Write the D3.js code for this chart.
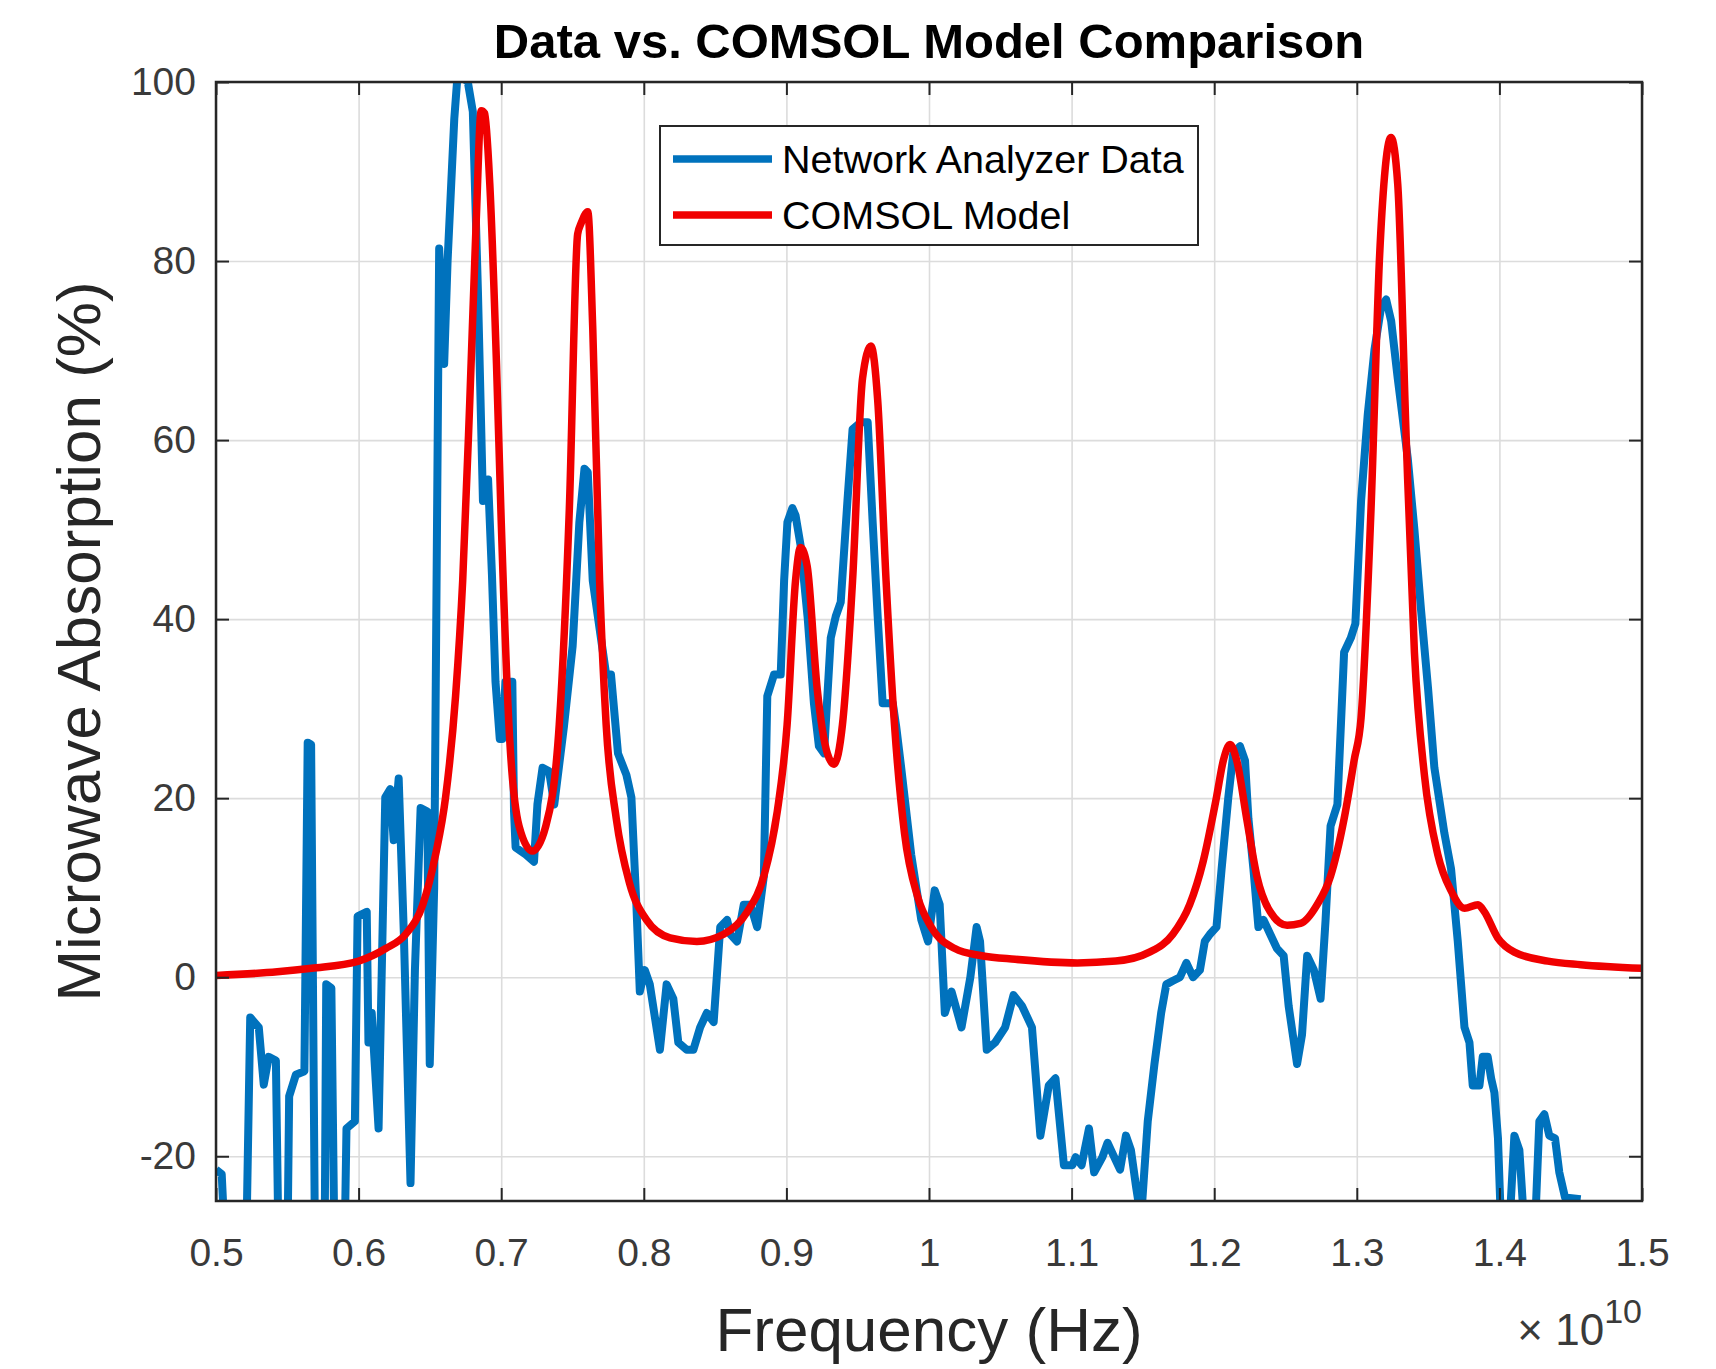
<!DOCTYPE html>
<html>
<head>
<meta charset="utf-8">
<script src="https://cdn.jsdelivr.net/npm/d3@7/dist/d3.min.js"></script>
<style>
  body { margin: 0; background: #fff; }
  text { font-family: Arial, "Liberation Sans", Helvetica, sans-serif; }
</style>
</head>
<body>
<svg class="chart"></svg>
<script>
// frequency values in units of 1e10 Hz, absorption in %
var dataFreq = [
  0.500, 0.504, 0.507, 0.521, 0.524, 0.530, 0.5335, 0.537, 0.542, 0.544,
  0.550, 0.5513, 0.556, 0.562, 0.5643, 0.5667, 0.5695, 0.5761, 0.5773, 0.5809,
  0.5832, 0.590, 0.5915, 0.5974, 0.5993, 0.6057, 0.6069, 0.6092, 0.614, 0.6187,
  0.6222, 0.6246, 0.6281, 0.6317, 0.6364, 0.6395, 0.6435, 0.6482, 0.6499, 0.653,
  0.6565, 0.660, 0.6624, 0.6671, 0.6695, 0.6766, 0.6801, 0.6837, 0.6872, 0.6908,
  0.6935, 0.696, 0.699, 0.7007, 0.703, 0.7078, 0.709, 0.7101, 0.7172, 0.723,
  0.7254, 0.729, 0.7336, 0.7372, 0.744, 0.7501, 0.7548, 0.7584, 0.7607, 0.7642,
  0.7736, 0.777, 0.7819, 0.7878, 0.7913, 0.7948, 0.7972, 0.8007, 0.8042, 0.8113,
  0.816, 0.8207, 0.8242, 0.8301, 0.8348, 0.8395, 0.8442, 0.849, 0.8536, 0.8584,
  0.8607, 0.8654, 0.8701, 0.8748, 0.8795, 0.8842, 0.8866, 0.8913, 0.896, 0.8984,
  0.9007, 0.9042, 0.9064, 0.9099, 0.915, 0.9193, 0.9228, 0.9264, 0.9311, 0.9346,
  0.9381, 0.9428, 0.9464, 0.9522, 0.957, 0.9605, 0.964, 0.9675, 0.9746, 0.977,
  0.9805, 0.9875, 0.9946, 0.9993, 1.004, 1.0075, 1.0111, 1.0158, 1.0228, 1.029,
  1.0334, 1.0358, 1.0405, 1.0464, 1.0534, 1.0593, 1.0652, 1.0722, 1.0781, 1.084,
  1.0887, 1.0946, 1.1005, 1.1028, 1.107, 1.1122, 1.1158, 1.1216, 1.1252, 1.1299,
  1.134, 1.1381, 1.1416, 1.1452, 1.1487, 1.1534, 1.1581, 1.1628, 1.1664, 1.1711,
  1.176, 1.1805, 1.1852, 1.190, 1.1934, 1.197, 1.2016, 1.2052, 1.2099, 1.2134,
  1.2181, 1.2216, 1.224, 1.2275, 1.231, 1.2346, 1.2393, 1.244, 1.2487, 1.2522,
  1.2581, 1.2616, 1.2652, 1.2699, 1.2746, 1.2781, 1.2816, 1.2864, 1.2911, 1.2958,
  1.299, 1.303, 1.3077, 1.3124, 1.3171, 1.3206, 1.3241, 1.3287, 1.3357, 1.3404,
  1.345, 1.350, 1.3544, 1.3614, 1.3661, 1.3708, 1.3755, 1.379, 1.3813, 1.386,
  1.3883, 1.3918, 1.3942, 1.3965, 1.399, 1.4012, 1.407, 1.4105, 1.414, 1.4175,
  1.425, 1.428, 1.4315, 1.435, 1.439, 1.442, 1.446, 1.457
];
var dataAbs = [
  -21.5, -22, -32, -32, -4.5, -5.6, -12, -8.9, -9.3, -32,
  -32, -13.3, -10.9, -10.5, 26.2, 26, -32, -32, -0.8, -1.2,
  -32, -32, -16.9, -16.1, 6.8, 7.3, -7.3, -4, -16.9, 20.1,
  21, 15.3, 22.2, 5, -23, 0.8, 18.9, 18.5, -9.7, 10,
  81.4, 68.5, 80, 95.9, 101, 100, 96.7, 76.5, 53.2, 55.6,
  45, 33, 26.6, 26.6, 33, 33, 18.5, 14.5, 13.7, 12.9,
  19.3, 23.4, 23, 19.3, 28, 37, 50.8, 56.8, 56.4, 44.3,
  33.8, 33.8, 25, 22.6, 20.1, 8.1, -1.6, 0.8, -0.8, -8.1,
  -0.8, -2.4, -7.3, -8.1, -8.1, -5.6, -4, -5, 5.6, 6.4,
  4.8, 4, 8.1, 8.1, 5.6, 11.3, 31.4, 33.8, 33.8, 44.3,
  50.8, 52.4, 51.6, 48.3, 40, 30.6, 25.8, 25, 37.9, 40.3,
  41.9, 53.2, 61.2, 62, 62, 50.8, 40.3, 30.6, 30.6, 28,
  23.4, 13.7, 6.4, 4, 9.7, 8.1, -4, -1.6, -5.6, 0,
  5.6, 4, -8.1, -7.3, -5.6, -2, -3.2, -5.6, -17.7, -12.1,
  -11.3, -21, -21, -20.1, -21, -16.9, -21.8, -20.1, -18.5, -20.1,
  -21.5, -17.7, -19.3, -23.4, -27, -16.1, -9.7, -4, -0.8, -0.4,
  0, 1.6, 0, 0.8, 4, 4.8, 5.6, 12.1, 20.1, 25,
  25.8, 24.2, 17.7, 12.1, 5.6, 6.4, 4.8, 3.2, 2.4, -3.2,
  -9.7, -6.4, 2.4, 0.8, -2.4, 6.4, 16.9, 19.3, 36.3, 37.9,
  39.5, 53.2, 62.9, 70.1, 74.9, 75.7, 73.3, 66.9, 58, 50,
  41.1, 32.2, 23.4, 16.1, 12.1, 4, -5.6, -7.3, -12.1, -12.1,
  -8.9, -8.9, -11.3, -12.9, -18, -28, -28, -17.7, -19.3, -28,
  -28, -16.1, -15.3, -17.7, -18, -21.8, -24.6, -24.8
];

var modelFreq = [
  0.500, 0.543, 0.567, 0.600, 0.619, 0.633, 0.645, 0.654, 0.661, 0.668,
  0.673, 0.678, 0.6825, 0.686, 0.6884, 0.692, 0.6967, 0.700, 0.7054, 0.7125,
  0.7219, 0.7313, 0.7407, 0.7478, 0.7536, 0.756, 0.7607, 0.7642, 0.769, 0.7736,
  0.7807, 0.790, 0.8019, 0.8184, 0.8372, 0.856, 0.8725, 0.8842, 0.8936, 0.9005,
  0.9064, 0.9099, 0.9146, 0.9216, 0.9287, 0.9334, 0.9393, 0.9464, 0.9534, 0.9593,
  0.964, 0.9699, 0.9758, 0.9828, 0.9922, 1.0016, 1.0181, 1.0369, 1.0605, 1.104,
  1.131, 1.1546, 1.171, 1.1828, 1.1922, 1.2016, 1.2064, 1.2111, 1.2158, 1.2228,
  1.2299, 1.2393, 1.2511, 1.2605, 1.2722, 1.2816, 1.2911, 1.2981, 1.303, 1.310,
  1.316, 1.3194, 1.324, 1.3287, 1.3346, 1.3404, 1.3474, 1.3568, 1.366, 1.3755,
  1.385, 1.3895, 1.3988, 1.4105, 1.434, 1.457, 1.500
];
var modelAbs = [
  0.2, 0.6, 1.0, 1.8, 3.2, 4.8, 8.1, 13.7, 20.1, 31.4,
  44.3, 64.5, 84.6, 96.8, 96.5, 88.6, 68.5, 51, 28.2, 16.9,
  14.1, 16.9, 28.2, 52.4, 83, 84.2, 85.5, 72.5, 44.3, 28.2,
  17.7, 10.5, 6.4, 4.4, 4.0, 4.8, 7.3, 11.3, 18.5, 28.2,
  44.3, 48, 45.9, 32.2, 25, 23.8, 28.2, 44.3, 66.9, 70.5,
  64.5, 44.3, 28.2, 16.1, 8.9, 5.6, 3.2, 2.4, 2.0, 1.6,
  1.8, 2.8, 4.8, 8.1, 12.9, 20.1, 24.2, 26, 24.2, 17.7,
  11.3, 7.3, 5.8, 6.0, 8.1, 11.3, 17.7, 24.2, 29, 52.4,
  80.6, 89.4, 93.8, 88.6, 60.4, 36.3, 22.6, 13.7, 9.7, 7.7,
  8.1, 7.3, 4.4, 2.8, 1.8, 1.4, 1.0
];

var xTicks = [0.5, 0.6, 0.7, 0.8, 0.9, 1.0, 1.1, 1.2, 1.3, 1.4, 1.5];
var xTickLabels = ['0.5', '0.6', '0.7', '0.8', '0.9', '1', '1.1', '1.2', '1.3', '1.4', '1.5'];
var yTicks = [-20, 0, 20, 40, 60, 80, 100];
var yTickLabels = ['-20', '0', '20', '40', '60', '80', '100'];
var seriesNames = ['Network Analyzer Data', 'COMSOL Model'];
var seriesColors = ['#0072bd', '#f00000'];

var margin = { top: 82, right: 74, bottom: 168, left: 216 };
var width = 1716 - margin.left - margin.right;
var height = 1369 - margin.top - margin.bottom;

var x = d3.scaleLinear().domain([0.5, 1.5]).range([0, width]);
var y = d3.scaleLinear().domain([-25, 100]).range([height, 0]);

var svg = d3.select('.chart')
  .attr('width', 1716)
  .attr('height', 1369);

var chart = svg.append('g')
  .attr('transform', 'translate(' + margin.left + ',' + margin.top + ')');

chart.append('rect')
  .attr('width', width)
  .attr('height', height)
  .attr('fill', '#fff');

// grid
chart.append('g')
  .attr('class', 'grid')
  .attr('transform', 'translate(0,' + height + ')')
  .call(d3.axisBottom(x).tickValues(xTicks).tickSize(-height).tickFormat(''))
  .call(g => g.select('.domain').remove());
chart.append('g')
  .attr('class', 'grid')
  .call(d3.axisLeft(y).tickValues(yTicks).tickSize(-width).tickFormat(''))
  .call(g => g.select('.domain').remove());
chart.selectAll('.grid line')
  .attr('stroke', '#dcdcdc')
  .attr('stroke-width', 1.6);

// lines
svg.append('defs').append('clipPath')
  .attr('id', 'plotclip')
  .append('rect')
  .attr('width', width)
  .attr('height', height);

var line = d3.line()
  .x(d => x(d[0]))
  .y(d => y(d[1]));

var dataPts = dataFreq.map((f, i) => [f, dataAbs[i]]);
var modelPts = modelFreq.map((f, i) => [f, modelAbs[i]]);

var plot = chart.append('g').attr('clip-path', 'url(#plotclip)');

plot.append('path')
  .datum(dataPts)
  .attr('fill', 'none')
  .attr('stroke', seriesColors[0])
  .attr('stroke-width', 8)
  .attr('stroke-linejoin', 'round')
  .attr('d', line);

plot.append('path')
  .datum(modelPts)
  .attr('fill', 'none')
  .attr('stroke', seriesColors[1])
  .attr('stroke-width', 7.5)
  .attr('stroke-linejoin', 'round')
  .attr('d', line.curve(d3.curveMonotoneX));

// axes with inward ticks
var xAxis = d3.axisBottom(x).tickValues(xTicks)
  .tickFormat((d, i) => xTickLabels[i])
  .tickSize(-13).tickPadding(37);
var yAxis = d3.axisLeft(y).tickValues(yTicks)
  .tickFormat((d, i) => yTickLabels[i])
  .tickSize(-13).tickPadding(20);

chart.append('g')
  .attr('class', 'x axis')
  .attr('transform', 'translate(0,' + height + ')')
  .call(xAxis);
chart.append('g')
  .attr('class', 'y axis')
  .call(yAxis);
chart.append('g')
  .attr('class', 'axis')
  .call(d3.axisTop(x).tickValues(xTicks).tickSize(-13).tickFormat(''));
chart.append('g')
  .attr('class', 'axis')
  .attr('transform', 'translate(' + width + ',0)')
  .call(d3.axisRight(y).tickValues(yTicks).tickSize(-13).tickFormat(''));

chart.selectAll('.axis .domain').remove();
chart.selectAll('.axis line')
  .attr('stroke', '#262626')
  .attr('stroke-width', 2);
chart.selectAll('.axis text')
  .attr('fill', '#3a3a3a')
  .style('font-size', '39px');

chart.append('rect')
  .attr('width', width)
  .attr('height', height)
  .attr('fill', 'none')
  .attr('stroke', '#262626')
  .attr('stroke-width', 2.5);

// titles
svg.append('text')
  .attr('x', margin.left + width / 2)
  .attr('y', 58)
  .attr('text-anchor', 'middle')
  .style('font-size', '49px')
  .style('font-weight', 'bold')
  .attr('fill', '#000')
  .text('Data vs. COMSOL Model Comparison');

svg.append('text')
  .attr('x', margin.left + width / 2)
  .attr('y', 1351)
  .attr('text-anchor', 'middle')
  .style('font-size', '62px')
  .attr('fill', '#262626')
  .text('Frequency (Hz)');

svg.append('text')
  .attr('transform', 'translate(100,' + (margin.top + height / 2) + ') rotate(-90)')
  .attr('text-anchor', 'middle')
  .style('font-size', '62px')
  .attr('fill', '#262626')
  .text('Microwave Absorption (%)');

var expo = svg.append('text')
  .attr('x', margin.left + width)
  .attr('y', 1345)
  .attr('text-anchor', 'end')
  .attr('fill', '#3a3a3a')
  .style('font-size', '44px');
expo.append('tspan').text('\u00d7 10');
expo.append('tspan').attr('dy', -22).style('font-size', '34px').text('10');

// legend
var legend = svg.append('g').attr('transform', 'translate(660,126)');
legend.append('rect')
  .attr('width', 538)
  .attr('height', 119)
  .attr('fill', '#fff')
  .attr('stroke', '#262626')
  .attr('stroke-width', 2);
seriesNames.forEach((name, i) => {
  var row = legend.append('g').attr('transform', 'translate(0,' + (33 + i * 56) + ')');
  row.append('line')
    .attr('x1', 13).attr('x2', 112)
    .attr('stroke', seriesColors[i])
    .attr('stroke-width', 7.5);
  row.append('text')
    .attr('x', 122)
    .attr('dy', '0.35em')
    .style('font-size', '39.5px')
    .attr('fill', '#000')
    .text(name);
});
</script>
</body>
</html>
